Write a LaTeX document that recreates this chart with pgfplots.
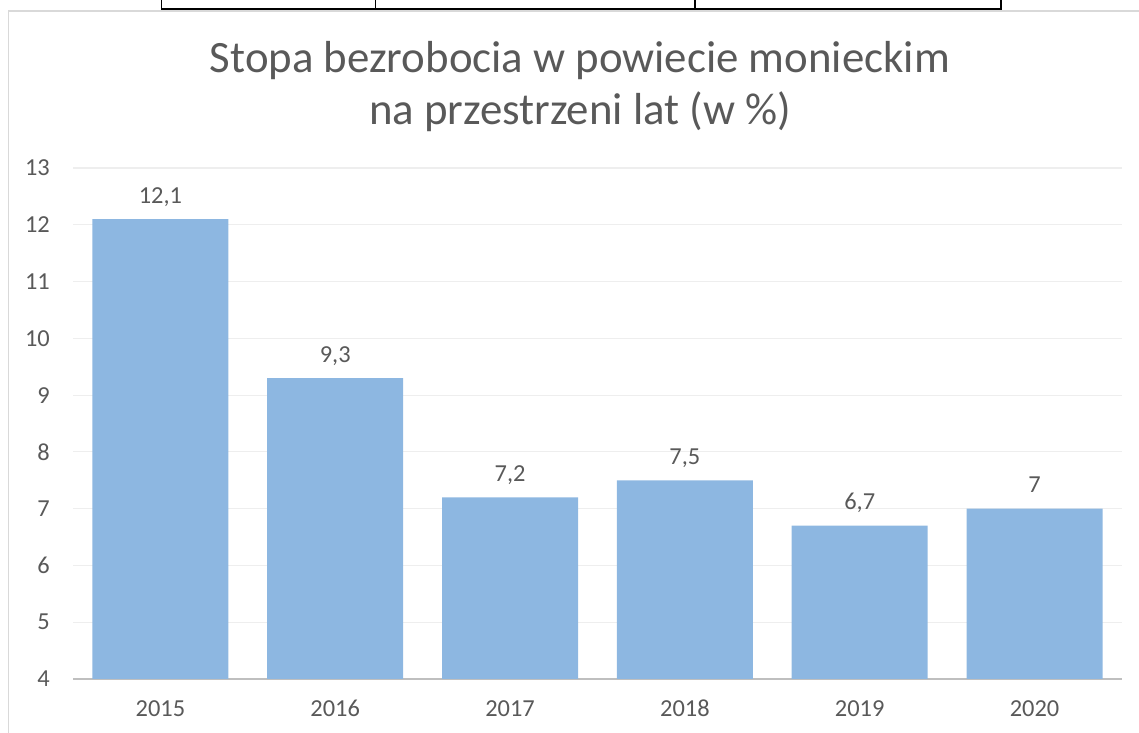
\documentclass[border=0pt]{standalone}
\usepackage{fontspec}
\setmainfont{Carlito}
\usepackage{pgfplots}
\pgfplotsset{compat=1.18}
\definecolor{barBlue}{RGB}{141,183,225}
\definecolor{txtGray}{RGB}{89,89,89}
\definecolor{gridGray}{RGB}{238,238,238}
\definecolor{axisGray}{RGB}{191,191,191}
\definecolor{frameGray}{RGB}{217,217,217}

\begin{document}
\begin{tikzpicture}[x=1bp,y=1bp]
\useasboundingbox (0,0) rectangle (1139,733);
% table fragment above the chart
\draw[black,line width=1.5bp] (161.5,733) -- (161.5,724) -- (1001,724) -- (1001,733);
\draw[black,line width=1.5bp] (375.5,733) -- (375.5,724);
\draw[black,line width=1.5bp] (695,733) -- (695,724);
% chart frame
\draw[frameGray,line width=1.5bp] (8.5,0) -- (8.5,722) -- (1139,722);
% title
\node[txtGray,font=\fontsize{45}{52}\selectfont,anchor=base] at (580,660) {Stopa bezrobocia w powiecie monieckim};
\node[txtGray,font=\fontsize{45}{52}\selectfont,anchor=base] at (580,608) {na przestrzeni lat (w \%)};
\begin{axis}[
    at={(73bp,54bp)},anchor=south west,
    scale only axis,width=1049bp,height=511bp,
    ybar,bar width=136bp,
    xmin=-0.5,xmax=5.5,ymin=4,ymax=13,
    xtick=data,xticklabels={2015,2016,2017,2018,2019,2020},
    ytick={4,5,...,13},
    axis y line*=left,
    axis x line*=bottom,
    y axis line style={draw=none},
    x axis line style={axisGray,line width=1.5bp,-},
    major tick length=0pt,
    ymajorgrids,grid style={gridGray,line width=1.2bp},
    /pgf/number format/assume math mode=true,
    /pgf/number format/use comma,
    yticklabel style={txtGray,font=\fontsize{24.5}{24.5}\selectfont,anchor=east,inner sep=0pt,xshift=-23bp},
    xticklabel style={txtGray,font=\fontsize{24.5}{24.5}\selectfont,anchor=north,inner sep=0pt,yshift=-21bp},
    ytick style={draw=none},xtick style={draw=none},
    nodes near coords,
    nodes near coords style={txtGray,font=\fontsize{24.5}{24.5}\selectfont,anchor=base,inner sep=0pt,yshift=16bp},
    clip=false,
]
\addplot[fill=barBlue,draw=none] coordinates {(0,12.1)(1,9.3)(2,7.2)(3,7.5)(4,6.7)(5,7)};
\end{axis}
\end{tikzpicture}
\end{document}
